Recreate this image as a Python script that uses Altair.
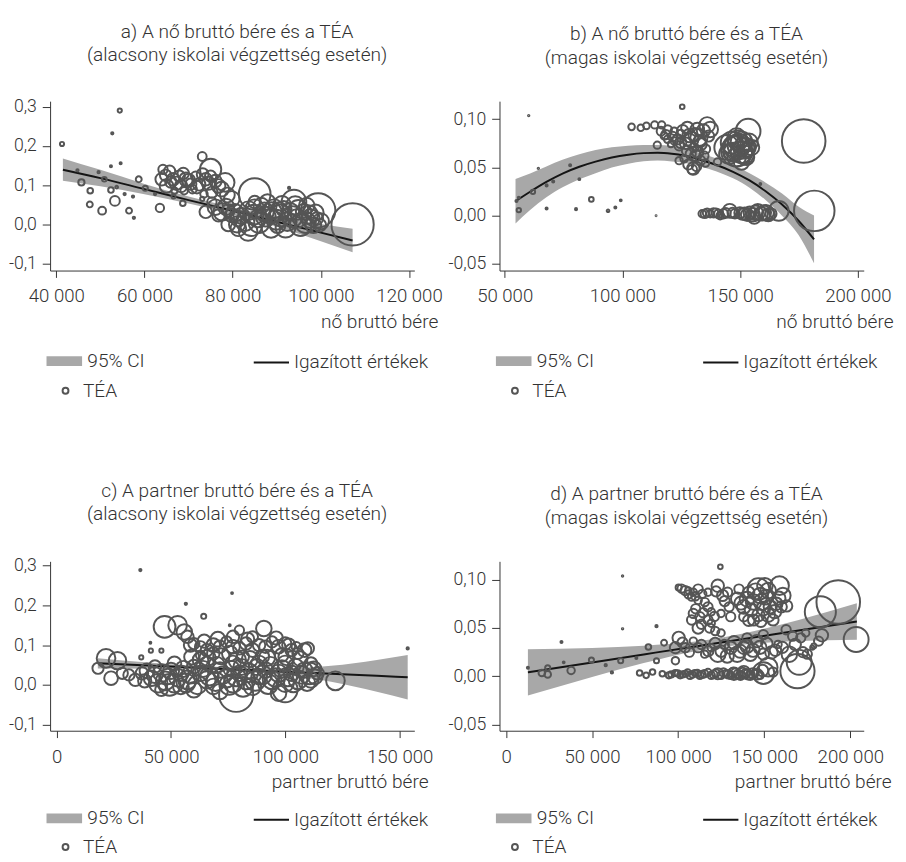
import altair as alt
import pandas as pd

FONT = "Roboto"
TXT = "#333333"
PT = "#555555"
CIC = "#a8a8a8"
W, H = 372, 173

# ---------------- panel a (wages in thousand HUF) ----------------
a_ber = [41.3, 54.4, 52.7, 54.6, 52.4, 44.8, 49.6, 45.7, 50.9, 47.7, 52.4, 53.7, 55.5, 53.3, 57.4, 47.6, 50.4,
         56.5, 57.6, 58.7, 60.2, 62.4, 63.5, 66.6, 68.7, 73.1, 75.0, 92.8, 85.0, 107.2, 99.4, 93.9, 78.3, 73.9,
         64.2, 65.7, 63.9, 65.0, 66.5, 67.9, 69.4, 68.3, 70.5, 71.6, 72.4, 73.9, 75.0, 76.1, 76.8, 75.3, 73.5,
         73.1, 70.9, 69.0, 66.8, 79.8, 75.3,
         76.1, 77.6, 79.0, 79.8, 81.3, 82.8, 84.2, 85.7, 87.2, 86.5, 85.0, 87.9, 89.4, 90.9, 92.4, 91.6, 93.1,
         94.6, 95.4, 96.1, 97.6, 98.3, 99.1, 96.8, 94.2, 90.2, 88.7, 83.5, 81.3, 79.0, 76.8, 99.8,
         78.5, 80.5, 82.0, 83.6, 84.8, 86.0, 87.5, 88.8, 89.9, 91.2, 92.0, 93.5, 94.9, 96.5, 97.2, 98.8, 100.0,
         81.0, 85.0, 90.5, 64.8, 67.2, 68.8, 70.0, 71.9, 73.2, 74.5, 66.0, 77.5, 78.8]
a_tea = [.205, .290, .232, .156, .148, .138, .133, .107, .115, .086, .0875, .095, .0775, .060, .071, .051, .035,
         .035, .017, .115, .092, .0775, .042, .071, .054, .173, .14, .093, .0775, 0.0, .036, .057, .107, .032,
         .14, .136, .115, .098, .115, .123, .115, .098, .1025, .123, .102, .115, .123, .1105, .098, .082, .0775,
         .065, .09, .086, .086, .065, .057,
         .044, .032, .036, .023, .015, .007, -.002, .015, .032, .048, .057, .057, .04, .023, .007, .04, .032,
         .015, -.002, .032, .015, -.002, .015, .048, .048, -.002, -.01, -.018, -.01, 0.0, .023, -.002,
         .045, .03, .022, .035, .025, .005, .02, .03, .012, .05, -.008, .02, .037, .005, .025, .03, .008,
         .0, .04, .033, .125, .105, .13, .112, .095, .128, .105, .108, .09, .075]
a_suly = [20, 20, 6, 5, 5, 6, 6, 45, 25, 36, 36, 8, 6, 110, 6, 40, 70,
          40, 6, 40, 30, 6, 80, 20, 36, 90, 520, 6, 1150, 2050, 1350, 700, 400, 180,
          100, 144, 178, 215, 178, 144, 215, 178, 144, 100, 178, 178, 144, 178, 215, 144, 64,
          20, 87, 64, 44, 278, 100,
          278, 348, 178, 215, 278, 400, 544, 348, 400, 278, 178, 278, 400, 544, 400, 278, 348,
          400, 544, 278, 400, 278, 178, 278, 400, 278, 400, 400, 278, 215, 178, 178,
          300, 350, 300, 400, 450, 500, 450, 500, 450, 350, 450, 500, 450, 500, 400, 300, 300,
          300, 400, 400, 150, 200, 150, 200, 180, 160, 200, 150, 250, 250]
a_fx = [41.5, 50, 60, 70, 80, 90, 100, 107.2]
a_fit = [0.1395, 0.118, 0.090, 0.062, 0.035, 0.007, -0.021, -0.041]
a_lo = [0.111, 0.097, 0.077, 0.053, 0.026, -0.006, -0.043, -0.071]
a_hi = [0.168, 0.139, 0.103, 0.071, 0.044, 0.020, 0.001, -0.011]

# ---------------- panel b ----------------
b_ber = [60.2, 64.3, 55.0, 56.0, 56.0, 62.0, 67.8, 70.6, 67.8, 77.8, 81.7, 80.3, 86.8, 93.9, 97.0, 99.3, 114.3,
         125.4, 103.9, 107.8, 110.2, 113.7, 116.7, 114.8, 136.0, 132.5, 130.1, 124.1, 135.3, 140.4, 153.4,
         177.0, 181.5, 166.4, 158.6, 145.6, 148.5,
         116.4, 119.2, 122.0, 124.8, 119.2, 122.0, 120.6, 124.8, 127.6, 129.0, 131.8, 133.2, 130.4, 127.6,
         131.1, 133.2, 129.7, 124.1, 136.6, 137.3, 135.3, 117.8, 126.2,
         144.3, 146.4, 148.5, 150.6, 152.7, 150.6, 148.5, 146.4, 152.7, 154.8, 148.5, 150.6,
         133.9, 136.0, 137.3, 138.7, 140.8, 142.9, 147.8, 149.9, 152.0, 154.1, 155.5, 157.5, 158.9, 161.0,
         163.1, 141.5, 156.0,
         118.5, 121.4, 123.5, 125.6, 128.3, 130.8, 132.8, 134.4, 126.8, 129.0, 132.0, 134.6, 128.0, 131.5,
         145.3, 147.3, 149.5, 151.6, 149.0, 147.0, 151.8, 153.8,
         135.0, 139.8, 143.9, 146.8, 151.0, 153.0, 156.6, 160.0, 162.0]
b_tea = [.1037, .049, .0152, .0186, .0058, .0247, .0314, .0354, .0075, .0523, .0378, .0068, .0169, .0051, .0085,
         .0159, 0.0, .1128, .092, .091, .093, .094, .094, .073, .094, .081, .0488, .057, .0545, .0556, .0875,
         .0774, .005, .005, .0328, .005, .067,
         .0875, .0892, .0875, .0842, .0791, .0774, .0741, .0758, .0909, .0791, .0892, .0741, .0707, .0673,
         .0623, .0572, .0478, .0724, .0825, .0892, .069, .0825, .0589,
         .0707, .0758, .0808, .0758, .0707, .0657, .0606, .0657, .0606, .0707, .0707, .0556,
         .002, .003, .002, .003, .002, .002, .002, .003, .002, .003, .001, .004, .002, .003, .002, 0.0, -.002,
         .084, .082, .079, .088, .083, .084, .077, .088, .075, .064, .066, .062, .053, .051,
         .064, .072, .073, .07, .078, .066, .063, .076,
         .002, .003, .003, .003, .002, .001, .003, .003, .001]
b_suly = [2, 2, 5, 5, 22, 22, 5, 5, 5, 5, 4, 5, 25, 8, 5, 4, 1, 25, 50, 50, 50, 60, 60, 60, 278, 340, 178,
          64, 64, 64, 700, 2180, 1880, 450, 4, 225, 1100,
          87, 87, 64, 100, 64, 64, 44, 144, 178, 278, 215, 178, 100, 144, 144, 100, 100, 100, 144, 278, 100,
          64, 64,
          700, 544, 400, 544, 400, 544, 400, 348, 278, 278, 700, 278,
          64, 87, 64, 100, 87, 100, 100, 144, 178, 178, 215, 278, 215, 278, 144, 64, 178,
          100, 100, 120, 150, 200, 200, 180, 200, 150, 120, 150, 100, 120, 100,
          450, 500, 600, 500, 450, 400, 400, 350,
          80, 90, 110, 120, 160, 180, 250, 250, 200]
b_fx = [54.6, 60.8, 67.7, 74.8, 81.7, 88.6, 95.5, 102.5, 109.0, 115.0, 121.0, 126.1, 133.0, 140.0, 147.0,
        154.0, 160.7, 167.8, 174.9, 181.4]
b_fit = [0.0150, 0.0248, 0.0350, 0.0439, 0.0507, 0.0560, 0.0603, 0.0632, 0.0648, 0.0652, 0.0642, 0.0624,
         0.0580, 0.0525, 0.0455, 0.0365, 0.0255, 0.0115, -0.0055, -0.0246]
b_lo = [-0.008, 0.0058, 0.019, 0.0296, 0.0377, 0.044, 0.0498, 0.0539, 0.0563, 0.0572, 0.0562, 0.0549, 0.051,
        0.0458, 0.0387, 0.029, 0.0165, 0.0, -0.0202, -0.0493]
b_hi = [0.038, 0.0438, 0.051, 0.0582, 0.0637, 0.068, 0.0708, 0.0725, 0.0733, 0.0732, 0.0722, 0.0699, 0.065,
        0.0592, 0.0523, 0.044, 0.0345, 0.023, 0.0092, 0.0001]

# ---------------- panel c ----------------
c_ber = [36.6, 56.5, 76.7, 64.3, 41.0, 41.2, 45.8, 37.0, 75.7, 153.5, 121.9, 21.6, 26.6, 18.1, 23.8, 31.6,
         34.4, 47.2, 52.9, 55.8, 90.6, 109.8, 104.8, 78.5, 99.9, 49.4, 110.5,
         57.2, 60.0, 62.9, 65.7, 68.5, 71.4, 74.3, 77.1, 79.9, 77.1, 79.9, 82.8, 85.6, 88.5, 91.3, 94.2, 97.0,
         99.9, 102.7, 105.5, 108.4, 68.5, 62.9, 75.7, 85.6, 81.4, 89.9, 98.4,
         28.7, 37.3, 41.5, 44.4, 48.6, 51.5, 54.3, 57.2, 60.0, 62.9, 65.7, 68.5, 71.4, 74.3, 77.1, 79.9, 82.8,
         85.6, 88.5, 91.3, 94.2, 97.0, 99.9, 102.7, 105.5, 108.4, 111.2, 114.1, 65.7, 77.1, 88.5, 99.9, 54.3,
         43.0, 45.8, 60.0, 71.4, 97.0, 111.2, 51.5, 62.9,
         39.5, 42.8, 46.0, 47.5, 50.0, 53.0, 55.5, 56.5, 58.5, 61.5, 64.0, 66.8, 69.5, 70.0, 72.8, 75.5, 76.5,
         78.5, 80.8, 81.5, 84.0, 86.8, 87.5, 90.0, 92.5, 93.5, 95.8, 98.5, 101.0, 103.5, 104.5, 107.0, 109.5,
         112.5, 59.0, 66.0, 72.0, 79.0, 84.5, 92.0, 100.5, 106.5, 64.5, 70.5, 83.5, 96.0, 58.5, 101.5, 113.0,
         38.5]
c_tea = [.289, .204, .231, .1725, .106, .086, .086, .069, .15, .0917, .01, .0667, .061, .0417, .0167, .025,
         .0125, .146, .15, .133, .142, .0917, .096, -.025, -.0125, 0.0, .029,
         .121, .104, .096, .0875, .100, .096, .108, .121, .1375, .096, .092, .104, .0875, .100, .096, .108, .096,
         .104, .0875, .079, .0875, .079, .075, .079, .121, .071, .071, .075,
         .029, .029, .0167, .004, .021, .004, .029, .0125, .046, .029, .0125, -.004, .0375, .0167, .004, .029,
         .0125, -.004, .021, .0375, .0125, .029, .004, .029, .0125, .0375, .0125, .029, .054, .054, .054, .054,
         -.004, .046, -.0125, -.0125, -.0167, -.021, .054, .054, .0625,
         .035, .025, .03, .01, .035, .018, .04, .005, .025, .0, .04, .022, .008, .05, .025, .0, .04,
         .02, .045, -.005, .03, .01, .045, .025, .002, .05, .018, .04, .02, .005, .045, .025, .005,
         .04, .07, .068, .072, .062, .065, .068, .07, .066, .11, .115, .115, .118, .1, .1, .02,
         .01]
c_suly = [6, 6, 4, 30, 4, 20, 20, 20, 4, 6, 400, 400, 348, 144, 215, 144, 178, 544, 400, 278, 278, 178, 100,
          1344, 711, 544, 544,
          178, 144, 144, 178, 215, 178, 144, 178, 100, 215, 178, 178, 215, 178, 178, 144, 215, 178, 178, 144,
          215, 178, 100, 278, 144, 178, 215, 215,
          144, 178, 278, 400, 278, 400, 278, 400, 215, 278, 348, 278, 278, 400, 400, 278, 400, 348, 278, 278,
          400, 348, 348, 278, 400, 278, 278, 178, 215, 278, 278, 278, 278, 178, 178, 278, 278, 278, 178, 215, 278,
          250, 300, 350, 400, 300, 350, 300, 400, 350, 400, 300, 400, 400, 300, 350, 450, 300,
          400, 300, 450, 400, 450, 300, 400, 450, 300, 400, 350, 400, 400, 300, 350, 300,
          250, 250, 300, 300, 350, 300, 300, 300, 250, 200, 250, 200, 200, 200, 200, 250,
          200]
c_fx = [18, 40, 60, 80, 100, 120, 140, 153.5]
c_fit = [0.0542, 0.0485, 0.0434, 0.0382, 0.0330, 0.0279, 0.0227, 0.0192]
c_lo = [0.0412, 0.0405, 0.0384, 0.0332, 0.024, 0.0079, -0.0173, -0.0368]
c_hi = [0.0672, 0.0565, 0.0484, 0.0432, 0.042, 0.0479, 0.0627, 0.0752]

# ---------------- panel d ----------------
d_ber = [124.5, 67.7, 67.7, 87.4, 32.2, 33.5, 12.7, 20.8, 24.2, 24.2, 37.8, 49.6, 57.9, 61.5, 66.6, 75.7,
         82.7, 91.8, 100.3, 105.9, 146.6, 158.9, 193.0, 182.6, 203.4, 169.3, 170.3, 149.5, 183.5, 177.9,
         104.1, 108.8, 111.6, 117.3, 107.8, 111.6, 117.3, 108.8, 112.6, 117.3, 107.8, 111.6, 118.3, 119.2,
         124.9, 123.0, 125.8, 128.7, 129.6, 130.5, 124.9, 119.2,
         134.3, 138.1, 141.0, 143.8, 147.6, 149.5, 146.6, 143.8, 152.3, 155.1, 157.0, 159.9, 160.8, 138.1,
         135.3, 152.3, 150.4,
         100.3, 98.4, 104.1, 108.8, 111.6, 115.4, 119.2, 123.0, 126.8, 130.5, 134.3, 138.1, 141.9, 145.7,
         149.5, 154.2, 164.6, 162.7, 166.5, 171.2, 174.1, 158.0, 149.5, 140.0, 98.4, 175.0, 178.8, 181.6,
         77.6, 81.4, 85.1, 90.8, 94.6, 98.4, 101.2, 104.1, 106.9, 109.7, 112.6, 115.4, 119.2, 122.0, 124.9,
         127.7, 130.5, 133.4, 136.2, 139.1, 141.9, 144.7, 147.6, 123.0, 132.4, 138.1, 152.3, 155.1, 87.4,
         102.0, 106.0, 110.0, 114.0, 115.5, 110.2, 114.5, 121.0, 113.5, 121.5, 127.0, 122.0,
         136.5, 140.0, 142.5, 145.0, 148.5, 151.0, 153.5, 156.0, 158.5, 141.0, 148.0, 163.0,
         102.5, 106.5, 113.5, 117.5, 121.5, 125.0, 128.5, 132.5, 136.0, 140.0, 143.5, 147.5, 151.5, 156.5,
         160.5, 168.0, 172.5,
         96.0, 99.7, 102.6, 105.5, 108.3, 111.1, 114.0, 117.3, 120.6, 126.3, 129.1, 131.9, 134.8, 137.6,
         140.5, 143.3, 146.2, 149.0]
d_tea = [.1135, .104, .0493, .052, .0355, .0145, .0088, .0034, .0088, .002, .006, .0169, .0115, .004, .0162,
         .019, .0304, .0348, .092, .0889, .0905, .094, .077, .0669, .0382, .0054, .0145, .0034, .0426, .0297,
         .0889, .0872, .0905, .0872, .0821, .0787, .072, .0652, .0618, .0584, .0584, .05, .05, .0551, .0449,
         .0939, .0838, .0872, .072, .0618, .0652, .0669,
         .0804, .072, .0872, .077, .0838, .0703, .0635, .0584, .0635, .0584, .0753, .072, .0838, .0618, .0905,
         .0889, .0939,
         .0399, .0297, .0297, .0365, .0297, .023, .0297, .023, .0331, .0297, .023, .0297, .023, .0365, .023,
         .0247, .023, .0483, .0416, .0399, .0449, .0331, .0432, .0399, .0162, .023, .0314, .0365,
         .0034, .001, .0044, .0027, .001, .0034, .001, .0027, .001, .0034, .001, .0027, .001, .0034, .001,
         .0027, .001, .0034, .001, .0027, .001, .0034, .001, .0027, .0027, .0044, .0095, .0044, .0162,
         .091, .085, .083, .0855, .077, .07, .066, .062, .054, .047, .078, .088,
         .076, .08, .069, .088, .077, .082, .072, .067, .081, .058, .057, .073,
         .035, .025, .033, .026, .034, .026, .021, .035, .026, .031, .027, .03, .034, .027,
         .03, .033, .025,
         .002, .003, .002, .004, .002, .003, .002, .004, .002, .004, .002, .004, .002, .004,
         .002, .003, .002, .006]
d_suly = [25, 2, 2, 6, 5, 4, 5, 50, 30, 50, 64, 30, 6, 6, 30, 5, 36, 40, 44, 50, 544, 400, 2180, 1111, 711,
          1344, 711, 544, 178, 20,
          100, 64, 100, 64, 64, 64, 100, 100, 100, 100, 100, 144, 100, 64, 64, 178, 144, 100, 100, 100, 64, 64,
          178, 215, 144, 278, 278, 215, 178, 144, 215, 144, 178, 144, 278, 100, 100, 278, 278,
          178, 144, 100, 64, 100, 64, 64, 278, 100, 178, 278, 178, 215, 178, 144, 178, 278, 100, 100, 100, 64,
          64, 100, 100, 64, 100, 28, 100,
          36, 36, 36, 36, 44, 44, 44, 44, 64, 44, 64, 64, 64, 64, 64, 64, 64, 100, 100, 100, 100, 64, 64, 144,
          178, 178, 400, 100, 30,
          80, 80, 80, 80, 80, 100, 100, 100, 100, 80, 120, 120,
          200, 250, 200, 300, 300, 250, 200, 200, 200, 150, 150, 150,
          120, 100, 100, 120, 150, 150, 200, 200, 200, 200, 200, 200, 150, 150,
          150, 150, 120,
          44, 44, 44, 50, 50, 60, 60, 60, 70, 80, 80, 100, 100, 100,
          120, 120, 120, 150]
d_fx = [12.7, 50, 80, 110, 140, 170, 203.8]
d_fit = [0.0041, 0.0144, 0.0227, 0.0310, 0.0392, 0.0475, 0.0568]
d_lo = [-0.0199, -0.0006, 0.0137, 0.026, 0.0332, 0.0365, 0.0378]
d_hi = [0.0281, 0.0294, 0.0317, 0.036, 0.0452, 0.0585, 0.0758]

titles = [
    ["a) A nő bruttó bére és a TÉA", "(alacsony iskolai végzettség esetén)"],
    ["b) A nő bruttó bére és a TÉA", "(magas iskolai végzettség esetén)"],
    ["c) A partner bruttó bére és a TÉA", "(alacsony iskolai végzettség esetén)"],
    ["d) A partner bruttó bére és a TÉA", "(magas iskolai végzettség esetén)"],
]
xtitles = ["nő bruttó bére", "nő bruttó bére", "partner bruttó bére", "partner bruttó bére"]

LAB = dict(labelFont=FONT, labelFontSize=19.5, labelFontWeight=300, labelColor=TXT, title=None,
           orient="none", padding=0)


def panel(ttl, xttl, ber, tea, suly, fx, fit, lo, hi, xdom, xvals, ydom, yvals, yfmt, xt_dx, leg_dy, tea_dy):
    pts = pd.DataFrame({"ber": [v * 1000 for v in ber], "tea": tea, "suly": suly})
    pts["jel"] = "TÉA"
    fd = pd.DataFrame({"ber": [v * 1000 for v in fx], "fit": fit, "lo": lo, "hi": hi})
    fd["ci"] = "95% CI"
    fd["vonal"] = "Igazított értékek"

    xs = alt.Scale(domain=xdom, nice=False, zero=False)
    ys = alt.Scale(domain=ydom, nice=False, zero=False)
    xax = alt.Axis(values=xvals, format=",d", labelExpr="replace(datum.label, ',', ' ')",
                   title=xttl, titleAnchor="end", titleAlign="right", titleX=W + xt_dx, titleY=58,
                   titleBaseline="alphabetic", tickSize=7, labelPadding=10, labelFontSize=19, grid=False)
    yax = alt.Axis(values=yvals, format=yfmt,
                   labelExpr="replace(replace(datum.label, '.', ','), '\u2212', '-')",
                   title=None, tickSize=8, labelPadding=6, grid=False)
    X = alt.X("ber:Q", scale=xs, axis=xax)

    band = alt.Chart(fd).mark_area(interpolate="monotone", opacity=1).encode(
        x=X,
        y=alt.Y("lo:Q", scale=ys, axis=yax),
        y2="hi:Q",
        fill=alt.Fill("ci:N", scale=alt.Scale(range=[CIC]),
                      legend=alt.Legend(legendX=-4, legendY=244 + leg_dy, symbolType="M-1,-0.27H1V0.27H-1Z",
                                        symbolSize=1320, symbolStrokeWidth=0, labelOffset=5, **LAB)),
    )
    line = alt.Chart(fd).mark_line(interpolate="monotone", strokeWidth=2).encode(
        x=X,
        y=alt.Y("fit:Q", scale=ys, axis=yax),
        stroke=alt.Stroke("vonal:N", scale=alt.Scale(range=["#151515"]),
                          legend=alt.Legend(legendX=207, legendY=245 + leg_dy, symbolType="stroke",
                                            symbolSize=1296, symbolStrokeWidth=2, labelOffset=4, **LAB)),
    )
    points = alt.Chart(pts).mark_point(filled=False, strokeWidth=2, opacity=1).encode(
        x=X,
        y=alt.Y("tea:Q", scale=ys, axis=yax),
        size=alt.Size("suly:Q", scale=alt.Scale(domain=[0, 2200], range=[0, 2000]), legend=None),
        shape=alt.Shape("jel:N", scale=alt.Scale(range=["circle"]),
                        legend=alt.Legend(legendX=6, legendY=281 + tea_dy, symbolSize=36, symbolStrokeWidth=2,
                                          symbolStrokeColor=PT, symbolFillColor="white", labelOffset=8, **LAB)),
        stroke=alt.value(PT),
    )
    return alt.layer(band, line, points).properties(
        width=W, height=H,
        title=alt.TitleParams(text=ttl, frame="group", anchor="middle", dx=5, offset=14, baseline="bottom",
                              lineHeight=24, font=FONT, fontSize=19.5, fontWeight=300, color=TXT),
    )


pa = panel(titles[0], xtitles[0], a_ber, a_tea, a_suly, a_fx, a_fit, a_lo, a_hi,
           [38600, 121200], [40000, 60000, 80000, 100000, 120000], [-0.1175, 0.314],
           [-0.1, 0, 0.1, 0.2, 0.3], ".1f", 24, 3, 5)
pb = panel(titles[1], xtitles[1], b_ber, b_tea, b_suly, b_fx, b_fit, b_lo, b_hi,
           [47800, 202500], [50000, 100000, 150000, 200000], [-0.0568, 0.1186],
           [-0.05, 0, 0.05, 0.1], ".2f", 30, 3, 5)
pc = panel(titles[2], xtitles[2], c_ber, c_tea, c_suly, c_fx, c_fit, c_lo, c_hi,
           [-2860, 156400], [0, 50000, 100000, 150000], [-0.1156, 0.311],
           [-0.1, 0, 0.1, 0.2, 0.3], ".1f", 14, 0, 1)
pd_ = panel(titles[3], xtitles[3], d_ber, d_tea, d_suly, d_fx, d_fit, d_lo, d_hi,
            [-3800, 207800], [0, 50000, 100000, 150000, 200000], [-0.0564, 0.1192],
            [-0.05, 0, 0.05, 0.1], ".2f", 28, 0, 1)

chart = alt.concat(pa, pb, pc, pd_, columns=2, spacing={"row": 297, "column": 87}, bounds="flush").resolve_scale(
    x="independent", y="independent", fill="independent", stroke="independent", shape="independent",
    size="independent"
).resolve_legend(
    fill="independent", stroke="independent", shape="independent", size="independent"
).resolve_axis(x="independent", y="independent").properties(
    padding={"left": 0, "top": 5, "right": 5, "bottom": 0}
).configure_view(stroke=None).configure_axis(
    labelFont=FONT, labelFontSize=18, labelFontWeight=300, labelColor=TXT, titleFont=FONT, titleFontSize=19.5,
    titleFontWeight=300, titleColor=TXT, domainColor="#333333", tickColor="#333333",
    domainWidth=1, tickWidth=1
)

chart.save("out.html", embed_options={"renderer": "svg", "actions": False})
